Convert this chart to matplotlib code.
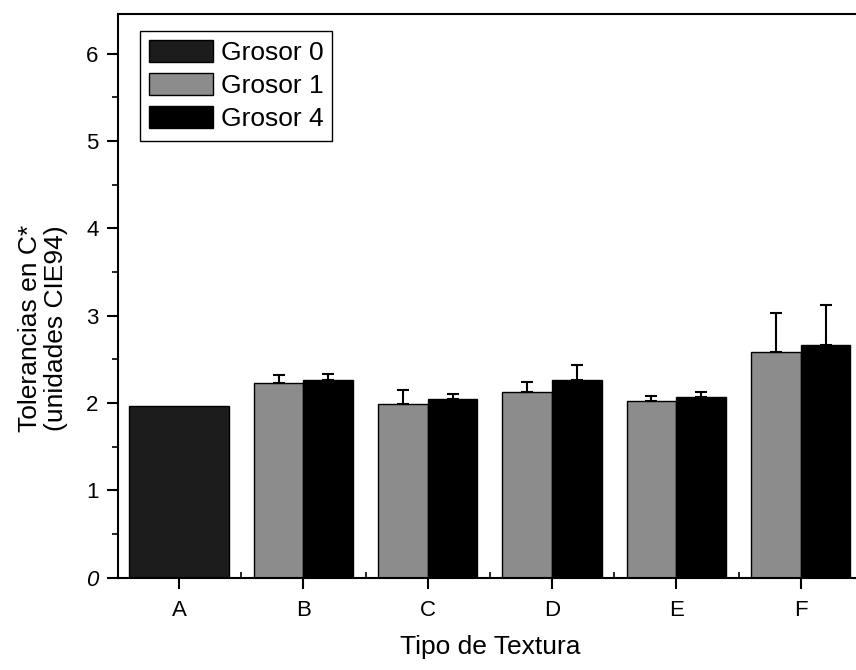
import matplotlib
matplotlib.use("Agg")
import matplotlib.pyplot as plt
from matplotlib.ticker import FixedLocator
import numpy as np

plt.rcParams['font.family'] = ['Liberation Sans', 'DejaVu Sans']

# datos
texturas = ['A', 'B', 'C', 'D', 'E', 'F']
grosor0 = [1.96]
grosor1 = [2.23, 1.99, 2.12, 2.02, 2.58]
err1 = [0.09, 0.16, 0.12, 0.06, 0.45]
grosor4 = [2.26, 2.05, 2.26, 2.07, 2.66]
err4 = [0.07, 0.05, 0.17, 0.06, 0.46]
yticks = [0, 1, 2, 3, 4, 5, 6]

fig = plt.figure(figsize=(8.56, 6.70), dpi=100)
ax = fig.add_axes([0.138, 0.1378, 0.870, 0.841])

x = np.arange(len(texturas))
w = 0.4

ax.bar(x[0], grosor0[0], width=2 * w, color='#1c1c1c', edgecolor='black',
       linewidth=1, label='Grosor 0')
ax.bar(x[1:] - w / 2, grosor1, width=w, color='#8c8c8c', edgecolor='black',
       linewidth=1, label='Grosor 1')
ax.bar(x[1:] + w / 2, grosor4, width=w, color='black', edgecolor='black',
       linewidth=1, label='Grosor 4')

ax.errorbar(x[1:] - w / 2, grosor1, yerr=[np.zeros(len(err1)), err1], fmt='none',
            ecolor='black', elinewidth=1.5, capsize=4.3, capthick=1.5)
ax.errorbar(x[1:] + w / 2, grosor4, yerr=[np.zeros(len(err4)), err4], fmt='none',
            ecolor='black', elinewidth=1.5, capsize=4.3, capthick=1.5)

ax.set_xlim(-0.49, 5.5)
ax.set_ylim(0, 6.45)

ax.set_xticks(x)
ax.set_xticklabels(texturas)
ax.xaxis.set_minor_locator(FixedLocator(x[:-1] + 0.5))
ax.set_yticks(yticks)
ax.set_yticklabels([str(v) for v in yticks])
ax.yaxis.set_minor_locator(FixedLocator(np.array(yticks) + 0.5))
ax.get_yticklabels()[0].set_fontstyle('italic')

ax.tick_params(axis='both', which='major', direction='out', length=8, width=1.5,
               labelsize=16)
ax.tick_params(axis='y', which='minor', direction='out', length=4, width=1.2)
ax.tick_params(axis='x', which='minor', direction='in', length=4, width=1.2)
ax.tick_params(axis='x', which='major', pad=8)
ax.tick_params(axis='y', which='major', pad=6)

for s in ax.spines.values():
    s.set_linewidth(1.5)

ax.set_xlabel('Tipo de Textura', fontsize=19, labelpad=10)
ax.set_ylabel('Tolerancias en C*\n(unidades CIE94)', fontsize=19,
              linespacing=1.1)
ax.yaxis.set_label_coords(-0.067, 0.442)

leg = ax.legend(loc='upper left', bbox_to_anchor=(0.0295, 0.97), fontsize=19,
                handlelength=2.4, handleheight=0.9, handletextpad=0.3,
                labelspacing=0.3, borderpad=0.35, fancybox=False, framealpha=1,
                borderaxespad=0)
leg.get_frame().set_edgecolor('black')
leg.get_frame().set_linewidth(1)

fig.savefig('out.png', dpi=100)
